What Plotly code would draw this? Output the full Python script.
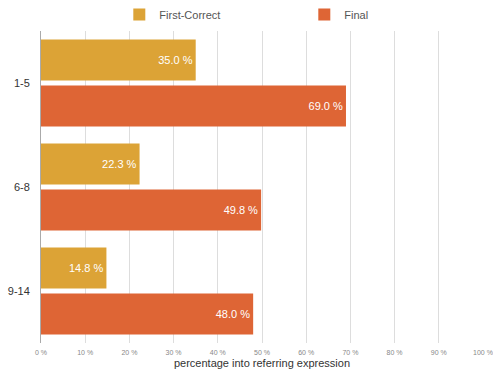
import plotly.graph_objects as go

categories = ["1-5", "6-8", "9-14"]
first_correct = [35.0, 22.3, 14.8]
final = [69.0, 49.8, 48.0]
x_ticks = [0, 10, 20, 30, 40, 50, 60, 70, 80, 90, 100]
x_tick_labels = [f"{v} %" for v in x_ticks]

fig = go.Figure()
fig.add_trace(go.Bar(
    y=categories, x=first_correct, orientation="h", name="First-Correct",
    marker=dict(color="#DCA336", line=dict(width=0)),
    text=[f"{v:.1f} %" for v in first_correct], textposition="inside",
    insidetextanchor="end", textfont=dict(color="white", size=11),
))
fig.add_trace(go.Bar(
    y=categories, x=final, orientation="h", name="Final",
    marker=dict(color="#DE6535", line=dict(width=0)),
    text=[f"{v:.1f} %" for v in final], textposition="inside",
    insidetextanchor="end", textfont=dict(color="white", size=11),
))

fig.update_layout(
    width=493, height=374,
    margin=dict(l=41, r=10, t=31, b=31, autoexpand=False),
    paper_bgcolor="white", plot_bgcolor="white",
    font=dict(family="Liberation Sans, Arial, sans-serif", color="#333333"),
    barmode="group", bargap=0.115, bargroupgap=0.109,
    legend=dict(orientation="h", xref="container", x=0.242, xanchor="left",
                yref="container", y=1.0, yanchor="top",
                font=dict(size=11, color="#555555"),
                entrywidth=140, itemwidth=30),
    xaxis=dict(range=[0, 100], tickvals=x_ticks, ticktext=x_tick_labels,
               tickfont=dict(size=7, color="#888888"), automargin=False,
               showgrid=True, gridcolor="#dddddd", gridwidth=1, zeroline=False,
               title=dict(text="percentage into referring expression",
                          font=dict(size=11, color="#333333"), standoff=4),
               showline=False, ticks="", ticklabelstandoff=4),
    yaxis=dict(autorange="reversed", tickfont=dict(size=11, color="#333333"),
               showline=True, linecolor="#aaaaaa", linewidth=1, ticks="",
               ticklabelstandoff=8, automargin=False),
)
fig.update_traces(cliponaxis=False)

fig.write_html("out.html", config={"displayModeBar": False},
               post_script="document.body.style.margin='0';document.body.style.padding='0';")
